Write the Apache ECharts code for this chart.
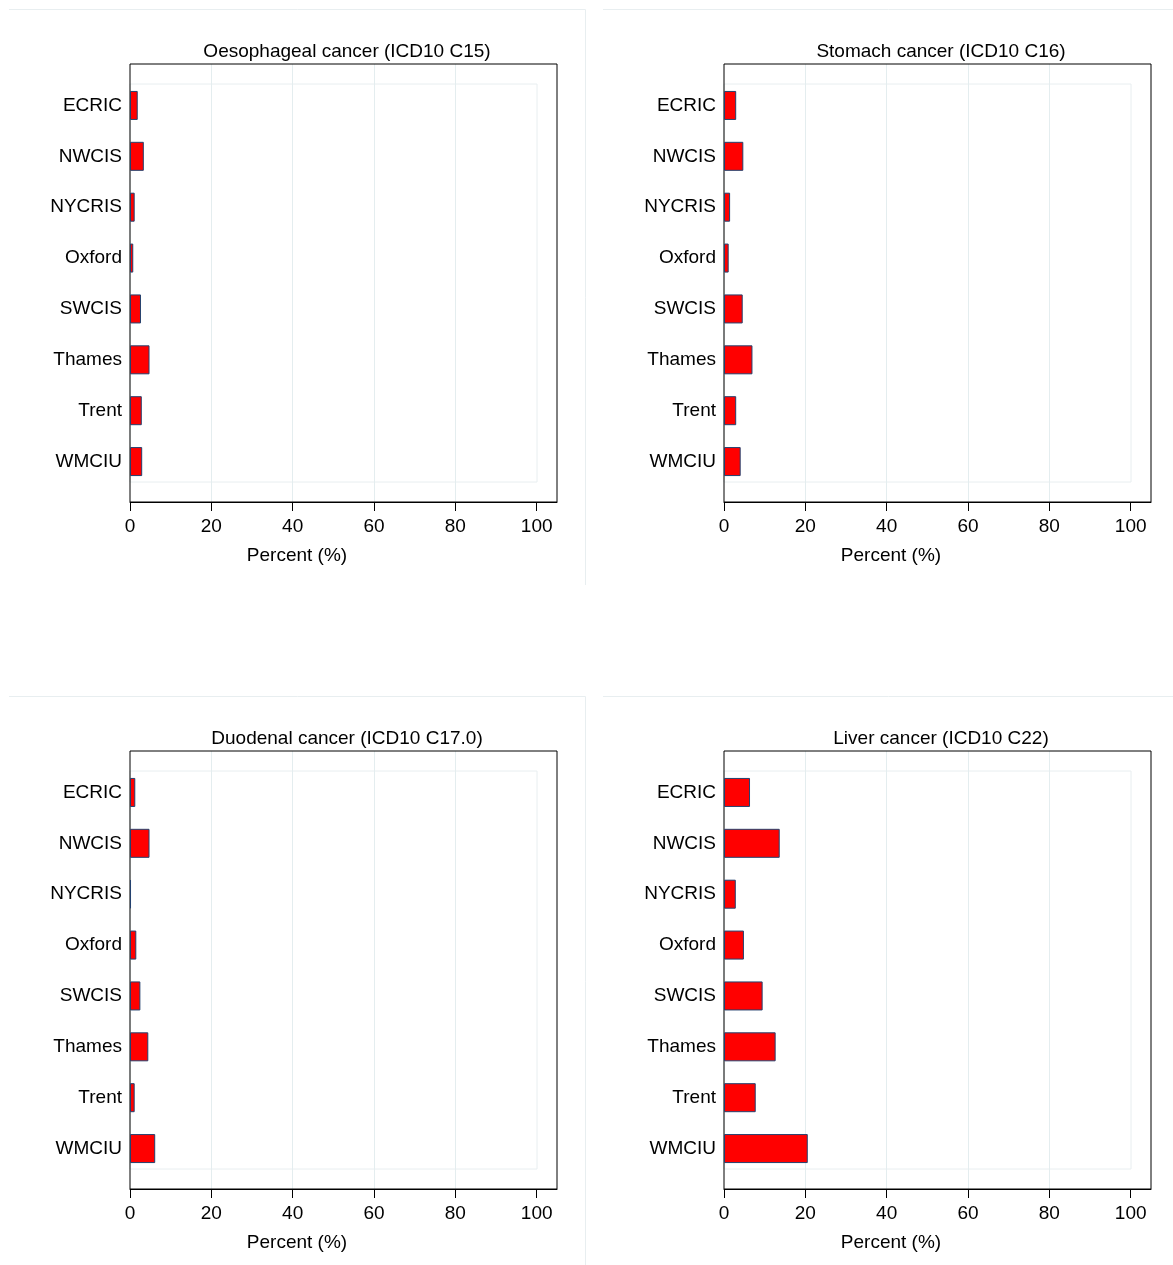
<!DOCTYPE html>
<html>
<head>
<meta charset="utf-8">
<title>Cancer registrations by registry</title>
<script src="https://cdn.jsdelivr.net/npm/echarts@6/dist/echarts.min.js"></script>
<style>
  html, body { margin: 0; padding: 0; background: #ffffff; }
  #chart { width: 1173px; height: 1265px; }
</style>
</head>
<body>
<div id="chart"></div>
<script>
// Registries shown on every panel (top to bottom)
const categories = ['ECRIC', 'NWCIS', 'NYCRIS', 'Oxford', 'SWCIS', 'Thames', 'Trent', 'WMCIU'];

// Percent values per registry, one array per cancer site
const oesophageal = [1.9, 3.4, 1.15, 0.8, 2.7, 4.8, 2.9, 3.0];
const stomach     = [3.0, 4.75, 1.5, 1.15, 4.6, 7.0, 3.0, 4.1];
const duodenal    = [1.3, 4.8, 0.25, 1.55, 2.55, 4.5, 1.15, 6.2];
const liver       = [6.4, 13.7, 2.9, 4.9, 9.5, 12.7, 7.8, 20.6];

const panelTitles = [
  'Oesophageal cancer (ICD10 C15)',
  'Stomach cancer (ICD10 C16)',
  'Duodenal cancer (ICD10 C17.0)',
  'Liver cancer (ICD10 C22)'
];
const panelValues = [oesophageal, stomach, duodenal, liver];

// x axis ticks and title
const xTicks = [0, 20, 40, 60, 80, 100];
const xTitle = 'Percent (%)';

const FONT = '"Liberation Sans", Arial, Helvetica, sans-serif';
const GRID_LINE = '#e4edef';
const FRAME_LINE = '#e8eef0';

// panel placement: 2 x 2 layout
const panelOffsets = [[0, 0], [594, 0], [0, 687], [594, 687]];

const grids = [];
const xAxes = [];
const yAxes = [];
const series = [];
const graphics = [];

panelOffsets.forEach(function (off, p) {
  const dx = off[0], dy = off[1];
  const base = grids.length;

  // light inner frame of the plot region (0..100)
  grids.push({ left: 130 + dx, top: 84 + dy, width: 407, height: 398,
               show: true, borderColor: FRAME_LINE, borderWidth: 1,
               backgroundColor: 'transparent', containLabel: false });
  xAxes.push({ gridIndex: base, type: 'value', min: 0, max: 100, show: false });
  yAxes.push({ gridIndex: base, type: 'value', min: 0, max: 1, show: false });

  // black plot box with the percent axis
  grids.push({ left: 130 + dx, top: 64 + dy, width: 427, height: 438,
               show: true, borderColor: '#000000', borderWidth: 1,
               backgroundColor: 'transparent', containLabel: false, z: 1 });
  xAxes.push({
    gridIndex: base + 1, type: 'value', min: 0, max: 105, interval: 20,
    axisLine: { show: true, lineStyle: { color: '#000000', width: 1 } },
    axisTick: { show: true, length: 9, inside: false, customValues: xTicks,
                lineStyle: { color: '#000000', width: 1 } },
    axisLabel: { show: true, margin: 15, fontSize: 19, color: '#000000',
                 fontFamily: FONT, customValues: xTicks },
    splitLine: { show: true, lineStyle: {
      color: ['rgba(0,0,0,0)', GRID_LINE, GRID_LINE, GRID_LINE, GRID_LINE,
              'rgba(0,0,0,0)', 'rgba(0,0,0,0)'], width: 1 } }
  });
  yAxes.push({ gridIndex: base + 1, type: 'value', min: 0, max: 1, show: false });

  // bars by registry
  grids.push({ left: 130 + dx, top: 80 + dy, width: 427, height: 407, containLabel: false });
  xAxes.push({ gridIndex: base + 2, type: 'value', min: 0, max: 105, show: false });
  yAxes.push({
    gridIndex: base + 2, type: 'category', data: categories, inverse: true,
    axisLine: { show: false }, axisTick: { show: false },
    axisLabel: { show: true, margin: 8, fontSize: 19, color: '#000000', fontFamily: FONT,
                 padding: [4, 0, 0, 0] },
    splitLine: { show: false }
  });
  series.push({
    type: 'bar', xAxisIndex: base + 2, yAxisIndex: base + 2,
    data: panelValues[p], barWidth: 29, z: 3,
    itemStyle: { color: '#ff0000', borderColor: '#23416e', borderWidth: 1 },
    emphasis: { disabled: true }, silent: true
  });

  // outer panel edge: top and right sides only
  graphics.push({ type: 'polyline', z: -1, silent: true,
    shape: { points: [[9 + dx, 9.5 + dy], [585.5 + dx, 9.5 + dy], [585.5 + dx, 585 + dy]] },
    style: { fill: 'none', stroke: FRAME_LINE, lineWidth: 1 } });

  // panel title
  graphics.push({ type: 'text', silent: true, x: 347 + dx, y: 52 + dy,
    style: { text: panelTitles[p], fill: '#000000', fontSize: 19, fontFamily: FONT,
             textAlign: 'center', textVerticalAlign: 'middle' } });

  // x axis title
  graphics.push({ type: 'text', silent: true, x: 297 + dx, y: 556 + dy,
    style: { text: xTitle, fill: '#000000', fontSize: 19, fontFamily: FONT,
             textAlign: 'center', textVerticalAlign: 'middle' } });
});

const chart = echarts.init(document.getElementById('chart'), null, { renderer: 'canvas' });
chart.setOption({
  backgroundColor: '#ffffff',
  animation: false,
  textStyle: { fontFamily: FONT },
  grid: grids,
  xAxis: xAxes,
  yAxis: yAxes,
  series: series,
  graphic: graphics
});
</script>
</body>
</html>
